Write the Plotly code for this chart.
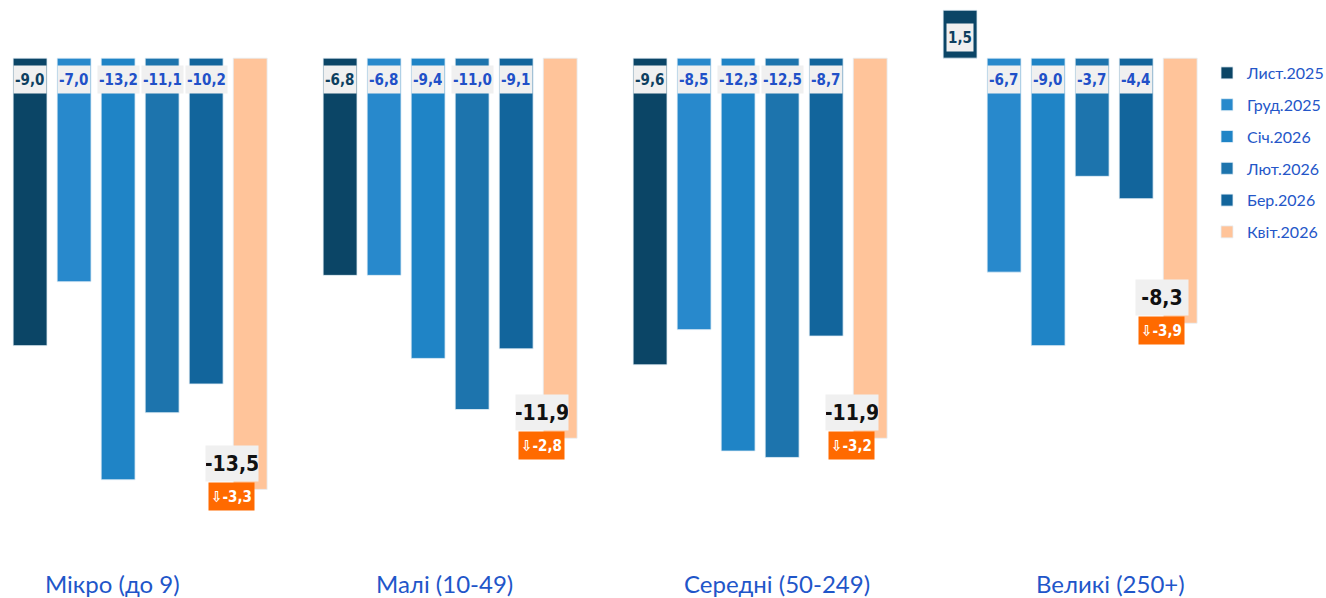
import plotly.graph_objects as go

categories = ["Мікро (до 9)", "Малі (10-49)", "Середні (50-249)", "Великі (250+)"]
series_names = ["Лист.2025", "Груд.2025", "Січ.2026", "Лют.2026", "Бер.2026", "Квіт.2026"]
lyst_2025 = [-9.0, -6.8, -9.6, 1.5]
grud_2025 = [-7.0, -6.8, -8.5, -6.7]
sich_2026 = [-13.2, -9.4, -12.3, -9.0]
liut_2026 = [-11.1, -11.0, -12.5, -3.7]
ber_2026 = [-10.2, -9.1, -8.7, -4.4]
kvit_2026 = [-13.5, -11.9, -11.9, -8.3]
change_vs_prev = [-3.3, -2.8, -3.2, -3.9]

series_values = [lyst_2025, grud_2025, sich_2026, liut_2026, ber_2026, kvit_2026]
colors = ["#0b4566", "#2889cc", "#1f84c6", "#1d74ad", "#12659c", "#ffc49a"]
label_colors = ["#0d3f5f", "#2150c8", "#2150c8", "#2150c8", "#2150c8", None]

W, H = 1326, 598
BARGAP = 0.148
BARGROUPGAP = 0.23
n_series = len(series_values)
slot = (1 - BARGAP) / n_series

NARROW = "DejaVu Sans Condensed, Liberation Sans Narrow, Roboto Condensed, Arial Narrow, sans-serif"
LABEL_FONT = "Lato, Open Sans, sans-serif"

fig = go.Figure()
xs = list(range(len(categories)))
for k, (name, vals) in enumerate(zip(series_names, series_values)):
    fig.add_trace(go.Bar(
        x=xs, y=vals, name=name, legendgroup=name,
        marker=dict(color=colors[k], line=dict(color="rgba(230,240,248,0.8)", width=1)),
        hoverinfo="y+name",
    ))

annotations = []
for k in range(n_series - 1):
    for i, v in enumerate(series_values[k]):
        xpos = i + (k - (n_series - 1) / 2) * slot
        txt = f"{v:.1f}".replace(".", ",")
        annotations.append(dict(
            x=xpos, y=0, xref="x", yref="y", text=f"<b>{txt}</b>", showarrow=False,
            yanchor="top" if v < 0 else "bottom", yshift=-7 if v < 0 else 6,
            xanchor="center", bgcolor="#f0f0f0", borderpad=1, height=25,
            font=dict(family=NARROW, size=15, color=label_colors[k]),
        ))

k = n_series - 1
for i, v in enumerate(series_values[k]):
    xpos = i + (k - (n_series - 1) / 2) * slot
    txt = f"{v:.1f}".replace(".", ",")
    annotations.append(dict(
        x=xpos, y=v, xref="x", yref="y", text=f"<b>{txt}</b>", showarrow=False,
        xanchor="left", xshift=-45, yanchor="middle", yshift=26,
        bgcolor="#f0f0f0", borderpad=0, width=52, height=35, align="center",
        font=dict(family=NARROW, size=21, color="#111111"),
    ))
    ch = f"{change_vs_prev[i]:.1f}".replace(".", ",")
    annotations.append(dict(
        x=xpos, y=v, xref="x", yref="y", text=f"<b>⇩{ch}</b>", showarrow=False,
        xanchor="left", xshift=-42, yanchor="middle", yshift=-7,
        bgcolor="#ff6a00", borderpad=0, width=45, height=27, align="center",
        font=dict(family=NARROW, size=15, color="#ffffff"),
    ))

label_px = [112, 445, 777, 1110]
for c, px in zip(categories, label_px):
    annotations.append(dict(
        x=px / W, y=(H - 583) / H, xref="paper", yref="paper",
        text=c, showarrow=False, xanchor="center", yanchor="middle",
        font=dict(family=LABEL_FONT, size=24, color="#1f56c9"),
    ))

px_per_cat = 310
x0 = -0.452
fig.update_layout(
    width=W, height=H,
    margin=dict(l=0, r=0, t=0, b=0, autoexpand=False),
    paper_bgcolor="white", plot_bgcolor="white",
    barmode="group", bargap=BARGAP, bargroupgap=BARGROUPGAP,
    xaxis=dict(range=[x0, x0 + W / px_per_cat], showticklabels=False, showgrid=False,
               zeroline=False, showline=False, ticks=""),
    yaxis=dict(range=[-16.9, 1.82], showticklabels=False, showgrid=False,
               zeroline=False, showline=False, ticks=""),
    legend=dict(x=1207 / W, xanchor="left", y=(H - 56) / H, yanchor="top",
                font=dict(family=LABEL_FONT, size=16, color="#2456c8"),
                traceorder="grouped", tracegroupgap=8, bgcolor="rgba(0,0,0,0)"),
    annotations=annotations,
    showlegend=True,
)

fig.write_html("out.html", config={"displayModeBar": False},
               post_script="document.body.style.margin='0';document.body.style.overflow='hidden';")
